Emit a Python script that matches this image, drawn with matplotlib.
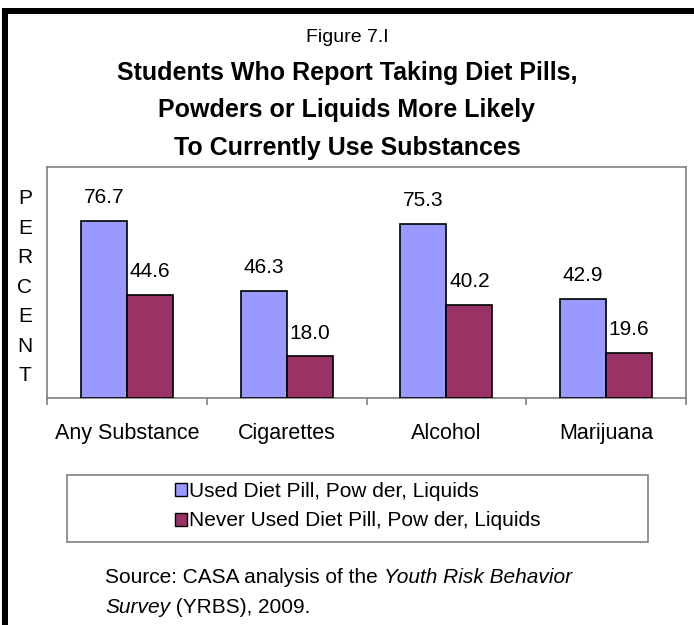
import numpy as np
import matplotlib
matplotlib.use("Agg")
import matplotlib.pyplot as plt
from matplotlib.patches import Patch, Rectangle

plt.rcParams['font.family'] = ['Liberation Sans', 'DejaVu Sans']

# Chart data
categories = ["Any Substance", "Cigarettes", "Alcohol", "Marijuana"]
used_pills = [76.7, 46.3, 75.3, 42.9]
never_used = [44.6, 18.0, 40.2, 19.6]
series_names = ["Used Diet Pill, Pow der, Liquids", "Never Used Diet Pill, Pow der, Liquids"]

BLUE = "#9999FF"
MAROON = "#993366"
GRAY = "#808080"

W, H = 694, 625
fig = plt.figure(figsize=(W / 100, H / 100), dpi=100)


def fx(px):
    # pixel x -> figure fraction
    return px / W


def fy(py):
    # pixel y (from top) -> figure fraction
    return 1 - py / H


# plot area: 47..686 wide, 167..398 tall
ax = fig.add_axes([fx(47), fy(398), fx(686) - fx(47), fy(167) - fy(398)])

x = np.arange(len(categories))
bw = 0.2875
b1 = ax.bar(x - bw / 2, used_pills, bw, color=BLUE, edgecolor="black", linewidth=1.2, zorder=3)
b2 = ax.bar(x + bw / 2, never_used, bw, color=MAROON, edgecolor="black", linewidth=1.2, zorder=3)

for bars, vals in [(b1, used_pills), (b2, never_used)]:
    for rect, v in zip(bars, vals):
        ax.annotate(f"{v:.1f}", (rect.get_x() + rect.get_width() / 2, v),
                    xytext=(0, 10), textcoords="offset points",
                    ha="center", va="bottom", fontsize=15)

ax.set_xlim(-0.5, len(categories) - 0.5)
ax.set_ylim(0, 100)
ax.set_yticks([])
ax.set_xticks(x)
ax.set_xticklabels(categories, fontsize=15.5)
ax.tick_params(axis="x", which="major", length=0, pad=18)
ax.set_xticks(np.arange(-0.5, len(categories)), minor=True)
ax.tick_params(axis="x", which="minor", length=5, width=1.2, color=GRAY, direction="out")

for side in ["left", "right", "top", "bottom"]:
    ax.spines[side].set_color(GRAY)
    ax.spines[side].set_linewidth(1.2)

# vertical PERCENT label
fig.text(fx(25), fy(287), "\n".join("PERCENT"), ha="center", va="center",
         fontsize=15, linespacing=1.7)

# titles
fig.text(0.5, fy(38), "Figure 7.I", ha="center", va="center", fontsize=14)
fig.text(0.5, fy(110.5), "Students Who Report Taking Diet Pills,\nPowders or Liquids More Likely\nTo Currently Use Substances",
         ha="center", va="center", fontsize=18, fontweight="bold", linespacing=1.72)

# legend with its own frame
fig.add_artist(Rectangle((fx(67), fy(542)), fx(648) - fx(67), fy(475) - fy(542),
                         transform=fig.transFigure, facecolor="none", edgecolor=GRAY, linewidth=1.2))
handles = [Patch(facecolor=BLUE, edgecolor="black", linewidth=1.0),
           Patch(facecolor=MAROON, edgecolor="black", linewidth=1.0)]
fig.legend(handles, series_names, loc="center", bbox_to_anchor=(fx(358), fy(506)),
           frameon=False, fontsize=15, handlelength=0.58, handleheight=0.58,
           handletextpad=0.1, labelspacing=0.52)

# source note, mixed roman / italic
t1 = fig.text(fx(105), fy(587), "Source: CASA analysis of the ", fontsize=15, va="bottom")
ax.annotate("Youth Risk Behavior", xy=(1, 0), xycoords=t1, va="bottom", fontsize=15, style="italic")
t2 = fig.text(fx(105), fy(617), "Survey", fontsize=15, va="bottom", style="italic")
ax.annotate(" (YRBS), 2009.", xy=(1, 0), xycoords=t2, va="bottom", fontsize=15)

# black frame on top and left
fig.add_artist(Rectangle((fx(2), fy(14)), 1, fy(8) - fy(14), transform=fig.transFigure,
                         facecolor="black", edgecolor="none"))
fig.add_artist(Rectangle((fx(2), 0), fx(8) - fx(2), fy(8), transform=fig.transFigure,
                         facecolor="black", edgecolor="none"))

fig.savefig("out.png", dpi=100)
